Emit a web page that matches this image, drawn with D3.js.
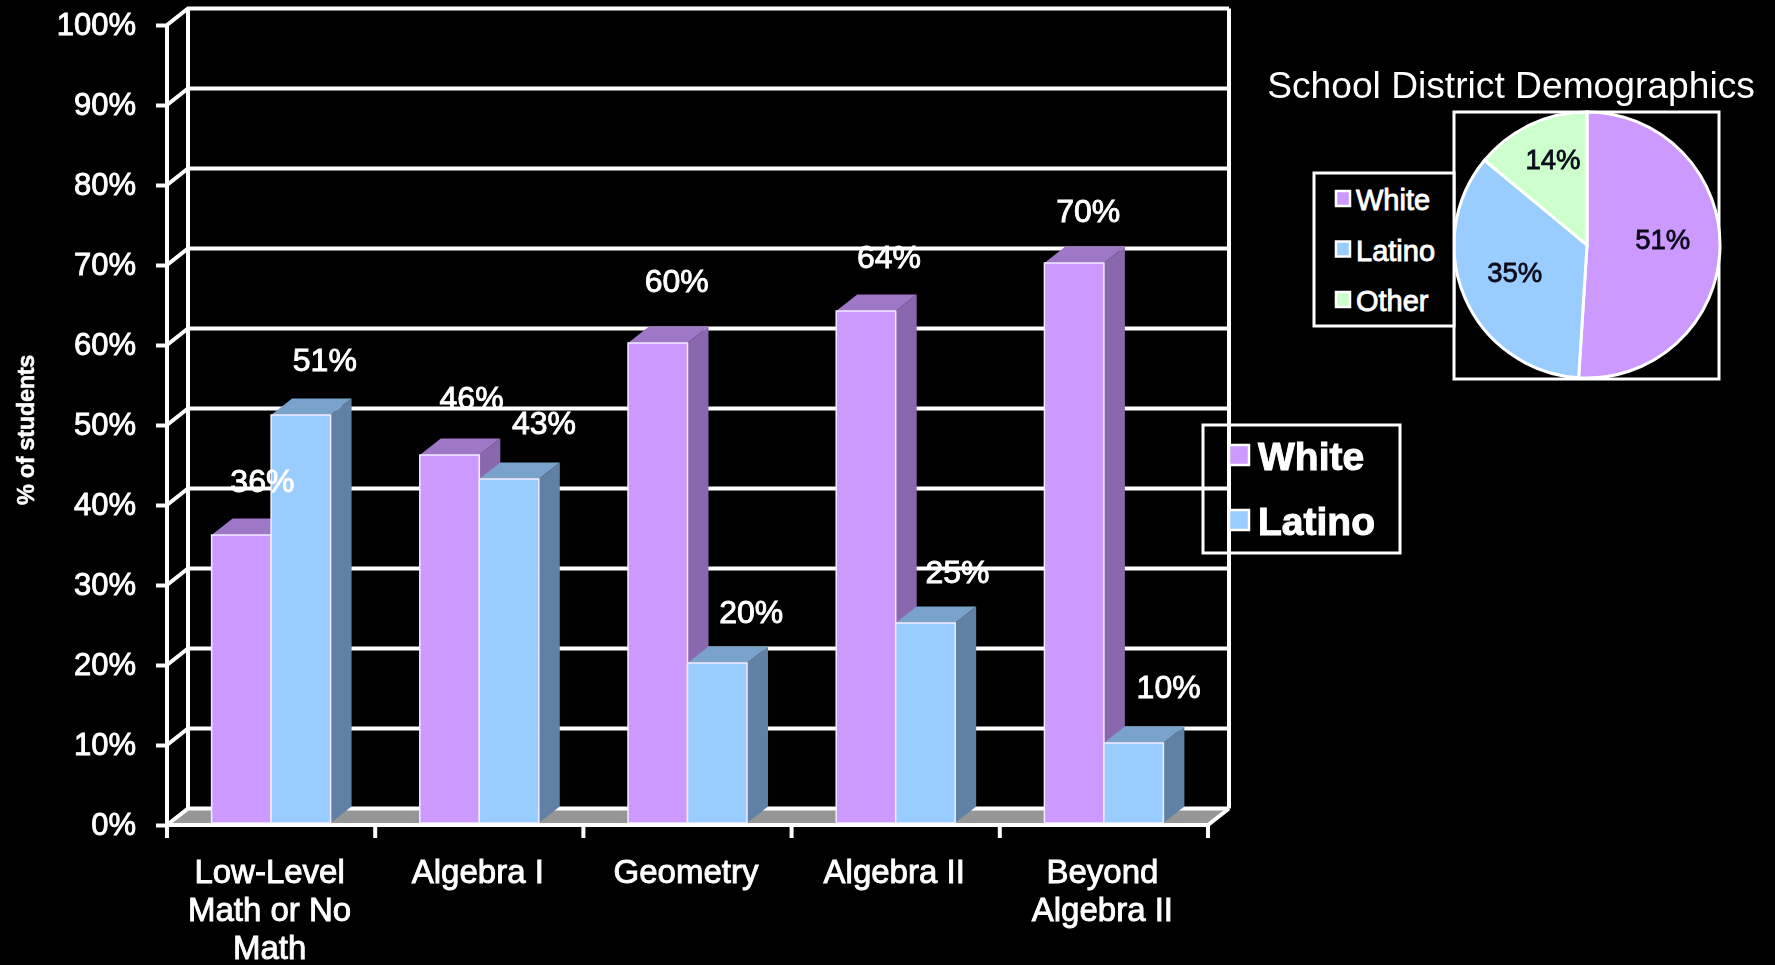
<!DOCTYPE html>
<html><head><meta charset="utf-8">
<script src="https://cdn.jsdelivr.net/npm/d3@7"></script>
<style>
html,body{margin:0;padding:0;background:#000;overflow:hidden}
svg{display:block;filter:blur(0.6px)}
text{font-family:"Liberation Sans",Arial,sans-serif}
</style></head><body><svg id="c" width="1775" height="965"></svg>
<script>
const categories=[["Low-Level","Math or No","Math"],["Algebra I"],["Geometry"],["Algebra II"],["Beyond","Algebra II"]];
const seriesNames=["White","Latino"];
const whiteValues=[36,46,60,64,70];
const latinoValues=[51,43,20,25,10];
const yTicks=[0,10,20,30,40,50,60,70,80,90,100];
const pieNames=["White","Latino","Other"];
const pieValues=[51,35,14];
const colors={White:"#CC99FF",Latino:"#99CCFF",Other:"#CCFFCC"};
const topColors={White:"#9E77C6",Latino:"#7AA3CC"};
const sideColors={White:"#8A68AD",Latino:"#6080A6"};
const labelNudge=[0,-1,-3,-2,-8,3,0,3,2,-2];
const labelNudgeX=[0,3,1,14,-2,13,2,11,-7,14];
const pieNudge=[[-4,-9],[1,-5],[0,-14]];

const svg=d3.select("#c");
const W="#fff";
const dx=21,dy=-16.5,lift=-2;
const y=d3.scaleLinear().domain([0,100]).range([825,25]);
const x=d3.scaleBand().domain(categories.map((d,i)=>i)).range([167,1208]);
const inner=d3.scaleBand().domain(seriesNames).range([0,x.bandwidth()]).paddingOuter(0.75).paddingInner(0);

// floor
svg.append("path").attr("fill","#969696")
 .attr("d",d3.line()([[x.range()[0],y(0)],[x.range()[1],y(0)],[x.range()[1]+dx,y(0)+dy],[x.range()[0]+dx,y(0)+dy]])+"Z");
// walls
const g=svg.append("g").attr("stroke",W).attr("stroke-width",4).attr("fill","none");
yTicks.forEach(t=>{
 g.append("path").attr("d",d3.line()([[x.range()[0],y(t)],[x.range()[0]+dx,y(t)+dy],[x.range()[1]+dx,y(t)+dy]]));
});
g.append("path").attr("d",d3.line()([[x.range()[0]+dx,y(0)+dy],[x.range()[0]+dx,y(100)+dy]]));
g.append("path").attr("d",d3.line()([[x.range()[1]+dx,y(0)+dy],[x.range()[1]+dx,y(100)+dy]]));
g.append("path").attr("d",d3.line()([[x.range()[1],y(0)],[x.range()[1]+dx,y(0)+dy]]));

// bars
const bars=[];
categories.forEach((c,i)=>{bars.push({i,s:"White",v:whiteValues[i]});bars.push({i,s:"Latino",v:latinoValues[i]});});
const bx=d=>x(d.i)+inner(d.s), bw=inner.bandwidth();
const bg=svg.append("g");
bars.forEach(d=>{
 const l=bx(d),r=l+bw,t=y(d.v)+lift,b=y(0)+lift;
 bg.append("path").attr("fill",sideColors[d.s]).attr("d",d3.line()([[r,t],[r+dx,t+dy],[r+dx,b+dy],[r,b]])+"Z");
 bg.append("path").attr("fill",topColors[d.s]).attr("d",d3.line()([[l,t],[l+dx,t+dy],[r+dx,t+dy],[r,t]])+"Z");
 bg.append("rect").attr("x",l).attr("y",t).attr("width",bw).attr("height",b-t).attr("fill",colors[d.s]).attr("stroke","#f4ecff").attr("stroke-width",1.5);
});
svg.append("g").selectAll("text").data(bars).join("text")
 .attr("x",(d,i)=>bx(d)+bw/2+21+labelNudgeX[i]).attr("y",(d,i)=>y(d.v)-45+labelNudge[i])
 .attr("text-anchor","middle").attr("fill",W).attr("stroke",W).attr("stroke-width",.9)
 .attr("font-size",32).text(d=>d.v+"%");

// axes
const ay=svg.append("g").attr("transform",`translate(${x.range()[0]},0)`)
 .call(d3.axisLeft(y).tickValues(yTicks).tickSize(11).tickPadding(20).tickFormat(d=>d+"%"));
ay.select(".domain").attr("stroke",W).attr("stroke-width",4).attr("d",`M0,${y(100)}V${y(0)}`);
ay.selectAll("line").attr("stroke",W).attr("stroke-width",4);
ay.selectAll("text").attr("fill",W).attr("stroke",W).attr("stroke-width",.9).attr("font-size",31).attr("font-family",'"Liberation Sans"');

const ax=svg.append("g").attr("transform",`translate(0,${y(0)})`)
 .call(d3.axisBottom(x).tickSize(0).tickFormat(""));
ax.select(".domain").attr("stroke",W).attr("stroke-width",4).attr("d",`M${x.range()[0]},0H${x.range()[1]}`);
ax.selectAll("line").remove();
const edges=categories.map((c,i)=>x(i)).concat([x.range()[1]]);
ax.selectAll("line.e").data(edges).join("line").attr("class","e").attr("x1",d=>d).attr("x2",d=>d).attr("y1",0).attr("y2",13).attr("stroke",W).attr("stroke-width",4);
categories.forEach((c,i)=>c.forEach((s,j)=>{
 svg.append("text").attr("x",x(i)+x.bandwidth()/2-1.5).attr("y",883+j*38).attr("text-anchor","middle").attr("fill",W).attr("stroke",W).attr("stroke-width",.9).attr("font-size",33).text(s);
}));
svg.append("text").attr("transform","translate(34,430) rotate(-90)").attr("text-anchor","middle").attr("fill",W).attr("stroke",W).attr("stroke-width",.5).attr("font-weight","bold").attr("font-size",23.5).attr("letter-spacing",-0.3).text("% of students");

// main legend
svg.append("rect").attr("x",1203).attr("y",425).attr("width",197).attr("height",128).attr("fill","none").attr("stroke",W).attr("stroke-width",3);
const lg=svg.append("g");
seriesNames.forEach((s,i)=>{
 lg.append("rect").attr("x",1229).attr("y",445+i*65).attr("width",20).attr("height",20).attr("fill",colors[s]).attr("stroke",W).attr("stroke-width",2.5);
 lg.append("text").attr("x",1258).attr("y",470+i*65).attr("fill",W).attr("stroke",W).attr("stroke-width",1).attr("font-size",39).attr("font-weight","bold").text(s);
});

// pie
svg.append("text").attr("x",1511).attr("y",98).attr("text-anchor","middle").attr("fill",W).attr("font-size",37.2).text("School District Demographics");
svg.append("rect").attr("x",1454).attr("y",112).attr("width",265).attr("height",267).attr("fill","none").attr("stroke",W).attr("stroke-width",3);
const rx=133,ry=133;
const pg=svg.append("g").attr("transform",`translate(1587,245) scale(${rx/ry},1)`);
const arcs=d3.pie().sort(null)(pieValues);
const arc=d3.arc().innerRadius(0).outerRadius(ry);
pg.selectAll("path").data(arcs).join("path").attr("d",arc)
 .attr("fill",(d,i)=>colors[pieNames[i]]).attr("stroke",W).attr("stroke-width",3).attr("vector-effect","non-scaling-stroke");
const lab=d3.arc().innerRadius(ry*.6).outerRadius(ry*.6);
const pl=svg.append("g").attr("transform",`translate(1587,245)`);
pl.selectAll("text").data(arcs).join("text")
 .attr("x",(d,i)=>lab.centroid(d)[0]*rx/ry+pieNudge[i][0]).attr("y",(d,i)=>lab.centroid(d)[1]+10+pieNudge[i][1])
 .attr("text-anchor","middle").attr("font-size",27.5).attr("fill","#0a0a1a").attr("stroke","#0a0a1a").attr("stroke-width",.8).text(d=>d.value+"%");
svg.append("rect").attr("x",1314).attr("y",173).attr("width",140).attr("height",153).attr("fill","#000").attr("stroke",W).attr("stroke-width",3);
pieNames.forEach((s,i)=>{
 svg.append("rect").attr("x",1336).attr("y",191+i*50.5).attr("width",14).attr("height",15).attr("fill",colors[s]).attr("stroke",W).attr("stroke-width",2.5);
 svg.append("text").attr("x",1356).attr("y",210+i*50.5).attr("fill",W).attr("stroke",W).attr("stroke-width",.9).attr("font-size",29).text(s);
});
</script></body></html>
